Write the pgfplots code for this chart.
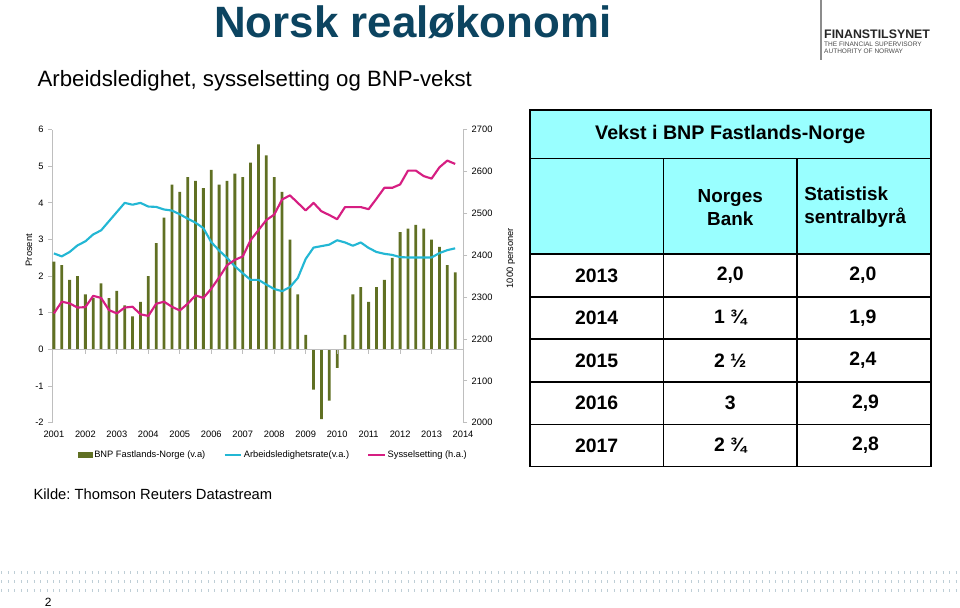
\documentclass[border=0pt]{standalone}
\usepackage{pgfplots}
\pgfplotsset{compat=1.18}
\usepackage{fontspec}
\setmainfont{Liberation Sans}
\definecolor{barcol}{RGB}{96,112,35}
\definecolor{bluecol}{RGB}{35,183,212}
\definecolor{magcol}{RGB}{214,30,130}
\definecolor{titlecol}{RGB}{12,68,96}
\definecolor{cyanfill}{RGB}{153,255,255}
\definecolor{axgray}{RGB}{190,190,190}
\definecolor{dotcol}{RGB}{190,206,214}
\newcommand{\chfont}{\fontsize{7}{8}\selectfont}
\frenchspacing
\begin{document}
\begin{tikzpicture}
\begin{scope}[x=0.75pt,y=-0.75pt]
\useasboundingbox (0,0) rectangle (960,609);
\fill[white] (0,0) rectangle (960,609);
% titles
\node[anchor=base west, inner sep=0pt, text=titlecol, font=\fontsize{33}{36}\selectfont\bfseries] at (213,38) {Norsk realøkonomi};
\node[anchor=base west, inner sep=0pt, font=\fontsize{16.7}{19}\selectfont] at (36,87) {Arbeidsledighet, sysselsetting og BNP-vekst};
% logo
\draw[black!45, line width=1.2pt] (822,0) -- (822,60);
\node[anchor=base west, inner sep=0pt, font=\fontsize{9.3}{10}\selectfont\bfseries, text=black!85] at (825,38.5) {FINANSTILSYNET};
\node[anchor=base west, inner sep=0pt, font=\fontsize{4.9}{5}\selectfont, text=black!70] at (825,46.5) {THE FINANCIAL SUPERVISORY};
\node[anchor=base west, inner sep=0pt, font=\fontsize{4.9}{5}\selectfont, text=black!70] at (825,54) {AUTHORITY OF NORWAY};
% axis labels
\node[rotate=90, inner sep=0pt, font=\chfont] at (27.5,251) {Prosent};
\node[rotate=90, inner sep=0pt, font=\chfont] at (511,259) {1000 personer};
\end{scope}

\begin{axis}[
  at={(38.25pt,-318pt)}, anchor=south west,
  scale only axis, width=309pt, height=220.5pt,
  xmin=-0.2, xmax=52, ymin=-2, ymax=6,
  axis y line*=left, axis x line*=bottom,
  x axis line style={draw=none},
  y axis line style={draw=axgray, line width=0.6pt},
  xtick={0,4,8,12,16,20,24,28,32,36,40,44,48,52},
  xticklabels={2001,2002,2003,2004,2005,2006,2007,2008,2009,2010,2011,2012,2013,2014},
  xtick style={draw=none},
  ytick={-2,-1,0,1,2,3,4,5,6},
  ytick style={draw=axgray, line width=0.6pt},
  tick align=outside, major tick length=3pt,
  tick label style={font=\chfont},
  /pgf/number format/assume math mode=true,
]
\addplot[ybar, bar width=2.1pt, fill=barcol, draw=none] coordinates {
(0,2.4) (1,2.3) (2,1.9) (3,2.0) (4,1.5) (5,1.4) (6,1.8) (7,1.4) (8,1.6) (9,1.2)
(10,0.9) (11,1.3) (12,2.0) (13,2.9) (14,3.6) (15,4.5) (16,4.3) (17,4.7) (18,4.6) (19,4.4)
(20,4.9) (21,4.5) (22,4.6) (23,4.8) (24,4.7) (25,5.1) (26,5.6) (27,5.3) (28,4.7) (29,4.3)
(30,3.0) (31,1.5) (32,0.4) (33,-1.1) (34,-1.9) (35,-1.4) (36,-0.5) (37,0.4) (38,1.5) (39,1.7)
(40,1.3) (41,1.7) (42,1.9) (43,2.5) (44,3.2) (45,3.3) (46,3.4) (47,3.3) (48,3.0) (49,2.8)
(50,2.3) (51,2.1)};
\draw[axgray, line width=0.6pt] (axis cs:-0.2,0) -- (axis cs:52,0);
\pgfplotsinvokeforeach{4,8,...,52}{\draw[axgray, line width=0.6pt] (axis cs:#1,0) -- ++(0pt,-3.5pt);}
\addplot[bluecol, line width=1.6pt, line join=round] coordinates {
(0,2.62) (1,2.54) (2,2.66) (3,2.84) (4,2.95) (5,3.14) (6,3.25) (7,3.50) (8,3.75) (9,4.00)
(10,3.95) (11,4.00) (12,3.90) (13,3.89) (14,3.82) (15,3.79) (16,3.69) (17,3.57) (18,3.46) (19,3.31)
(20,2.93) (21,2.70) (22,2.50) (23,2.27) (24,2.08) (25,1.90) (26,1.90) (27,1.77) (28,1.65) (29,1.59)
(30,1.70) (31,1.95) (32,2.47) (33,2.78) (34,2.82) (35,2.86) (36,2.98) (37,2.92) (38,2.83) (39,2.92)
(40,2.77) (41,2.66) (42,2.61) (43,2.58) (44,2.52) (45,2.51) (46,2.51) (47,2.51) (48,2.51) (49,2.63)
(50,2.71) (51,2.76)};
\end{axis}

\begin{axis}[
  at={(38.25pt,-318pt)}, anchor=south west,
  scale only axis, width=309pt, height=220.5pt,
  xmin=-0.2, xmax=52, ymin=2000, ymax=2700,
  axis y line*=right, axis x line=none,
  y axis line style={draw=axgray, line width=0.6pt},
  ytick={2000,2100,2200,2300,2400,2500,2600,2700},
  ytick style={draw=axgray, line width=0.6pt},
  tick align=outside, major tick length=3pt,
  tick label style={font=\chfont},
  yticklabel style={/pgf/number format/1000 sep={}},
  /pgf/number format/assume math mode=true,
  legend columns=3,
  legend cell align=left,
  legend style={at={(0.0624,-0.109)}, anchor=west, draw=none, fill=none, inner sep=0pt,
    nodes={inner xsep=1.2pt},
    font=\chfont, /tikz/every even column/.append style={column sep=12.5pt}},
]
\addlegendimage{legend image code/.code={\fill[barcol] (0pt,-1.6pt) rectangle (10.5pt,1.6pt);}}
\addlegendentry{BNP Fastlands-Norge (v.a)}
\addlegendimage{legend image code/.code={\draw[bluecol, line width=1.6pt] (0pt,0pt) -- (12.5pt,0pt);}}
\addlegendentry{Arbeidsledighetsrate(v.a.)}
\addplot[magcol, line width=1.6pt, line join=round,
  legend image code/.code={\draw[magcol, line width=1.6pt] (0pt,0pt) -- (12.5pt,0pt);}] coordinates {
(0,2261) (1,2289) (2,2285) (3,2275) (4,2276) (5,2303) (6,2298) (7,2269) (8,2261) (9,2275)
(10,2277) (11,2259) (12,2255) (13,2284) (14,2289) (15,2277) (16,2268) (17,2284) (18,2304) (19,2298)
(20,2320) (21,2347) (22,2376) (23,2389) (24,2397) (25,2436) (26,2460) (27,2484) (28,2497) (29,2533)
(30,2543) (31,2525) (32,2507) (33,2525) (34,2505) (35,2496) (36,2486) (37,2515) (38,2515) (39,2515)
(40,2510) (41,2535) (42,2561) (43,2561) (44,2569) (45,2602) (46,2602) (47,2589) (48,2583) (49,2610)
(50,2626) (51,2618)};
\addlegendentry{Sysselsetting (h.a.)}
\end{axis}

\begin{scope}[x=0.75pt,y=-0.75pt]
% table
\fill[cyanfill] (530,110) rectangle (932,255);
\draw[black, line width=1.3pt] (530,110) rectangle (932,468);
\foreach \yy in {159,255,297.7,340.3,383,425.7} {\draw[black, line width=1.3pt] (530,\yy) -- (932,\yy);}
\draw[black, line width=1.3pt] (664,159) -- (664,468);
\draw[black, line width=1.3pt] (798,159) -- (798,468);
\node[font=\fontsize{14.8}{17}\selectfont\bfseries, inner sep=0pt] at (731,135) {Vekst i BNP Fastlands-Norge};
\node[font=\fontsize{14.2}{17.5}\selectfont\bfseries, align=center, inner sep=0pt] at (731,208) {Norges\\Bank};
\node[font=\fontsize{14.2}{17.5}\selectfont\bfseries, align=left, anchor=west, inner sep=0pt] at (805,208) {Statistisk\\sentralbyrå};
\foreach \yy/\yr/\nb/\ssb/\sx in {276.3/2013/{2,0}/{2,0}/864, 319/2014/{1 ¾}/{1,9}/864, 361.7/2015/{2 ½}/{2,4}/864, 404.3/2016/3/{2,9}/866.7, 446.8/2017/{2 ¾}/{2,8}/866.7} {
  \node[font=\fontsize{14.6}{17}\selectfont\bfseries, inner sep=0pt] at (597,\yy) {\yr};
  \node[font=\fontsize{14.6}{17}\selectfont\bfseries, inner sep=0pt] at (731,\yy) {\nb};
  \node[font=\fontsize{14.6}{17}\selectfont\bfseries, inner sep=0pt] at (\sx,\yy) {\ssb};
}
% source
\node[anchor=base west, inner sep=0pt, font=\fontsize{11.1}{13}\selectfont] at (32,501) {Kilde: Thomson Reuters Datastream};
% footer dotted lines
\foreach \yy in {574,583,592} {\draw[dotcol, line width=2.2pt, dash pattern=on 0.75pt off 4.1pt] (0,\yy) -- (960,\yy);}
\node[font=\fontsize{9}{10}\selectfont, inner sep=0pt] at (47,604) {2};
\end{scope}
\end{tikzpicture}
\end{document}
